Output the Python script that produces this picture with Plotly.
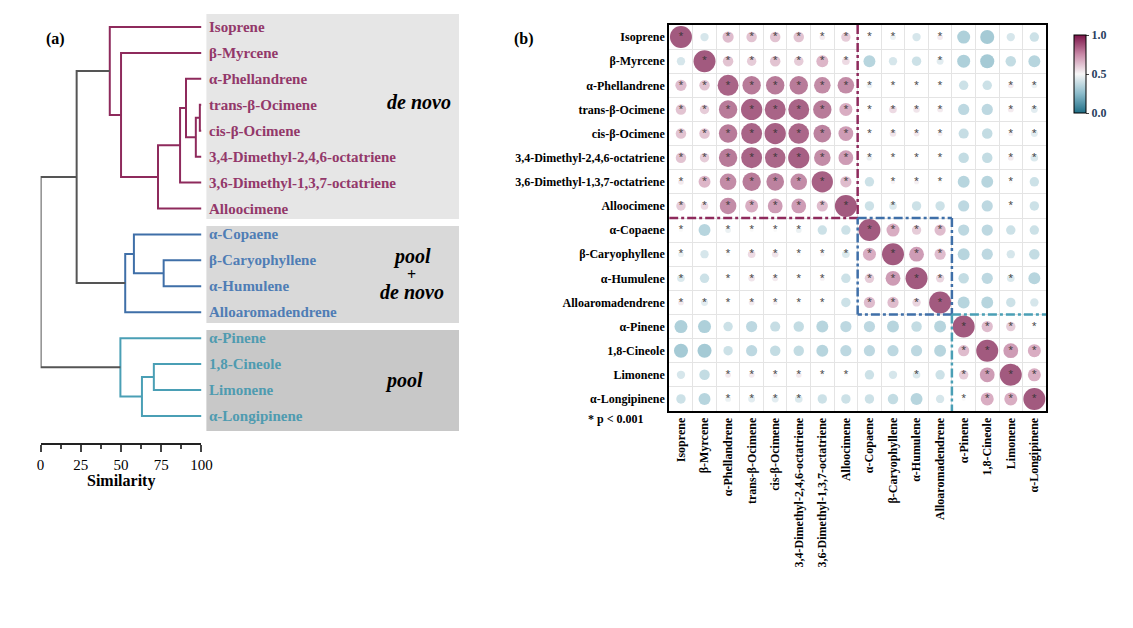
import plotly.graph_objects as go

W, H = 1133, 628
OFF = 8  # default page body margin

def px(x):
    return (x - OFF) / W

def py(y):
    return 1 - (y - OFF) / H

leaves = ["Isoprene", "β-Myrcene", "α-Phellandrene", "trans-β-Ocimene", "cis-β-Ocimene",
          "3,4-Dimethyl-2,4,6-octatriene", "3,6-Dimethyl-1,3,7-octatriene", "Alloocimene",
          "α-Copaene", "β-Caryophyllene", "α-Humulene", "Alloaromadendrene",
          "α-Pinene", "1,8-Cineole", "Limonene", "α-Longipinene"]
leaf_group = ["dn"] * 8 + ["pd"] * 4 + ["p"] * 4

# merges: (child a, child b, similarity height, colour group); "n#" = earlier merge
merges = [
    ("trans-β-Ocimene", "cis-β-Ocimene", 99, "dn"),
    ("n0", "3,4-Dimethyl-2,4,6-octatriene", 96.5, "dn"),
    ("α-Phellandrene", "n1", 90.4, "dn"),
    ("n2", "3,6-Dimethyl-1,3,7-octatriene", 86.7, "dn"),
    ("n3", "Alloocimene", 73, "dn"),
    ("β-Myrcene", "n4", 50, "dn"),
    ("Isoprene", "n5", 43, "dn"),
    ("β-Caryophyllene", "α-Humulene", 76.5, "pd"),
    ("α-Copaene", "n7", 58, "pd"),
    ("n8", "Alloaromadendrene", 52.6, "pd"),
    ("n6", "n9", 22.4, "g"),
    ("1,8-Cineole", "Limonene", 70.4, "p"),
    ("n11", "α-Longipinene", 63, "p"),
    ("α-Pinene", "n12", 49.6, "p"),
    ("n10", "n13", 0, "g"),
]

corr = [
    [1, .38, .7, .68, .68, .68, .55, .65, .5, .45, .38, .55, .25, .22, .38, .35],
    [.38, 1, .68, .65, .68, .65, .72, .6, .28, .38, .35, .42, .25, .22, .32, .28],
    [.7, .68, .97, .9, .9, .9, .85, .85, .45, .5, .5, .5, .35, .35, .55, .45],
    [.68, .65, .9, .98, .97, .97, .9, .75, .5, .6, .57, .55, .3, .3, .55, .42],
    [.68, .68, .9, .97, .98, .96, .88, .8, .5, .57, .55, .53, .33, .32, .53, .42],
    [.68, .65, .9, .97, .96, .98, .85, .8, .45, .5, .5, .5, .32, .32, .55, .4],
    [.55, .72, .85, .9, .88, .85, .98, .7, .35, .52, .53, .5, .28, .28, .5, .35],
    [.65, .6, .85, .75, .8, .8, .7, 1, .35, .4, .35, .35, .3, .3, .5, .35],
    [.5, .28, .45, .5, .5, .45, .35, .35, 1, .75, .65, .7, .3, .3, .35, .35],
    [.45, .38, .5, .6, .57, .5, .52, .4, .75, 1, .8, .7, .28, .3, .38, .32],
    [.4, .35, .5, .57, .55, .5, .53, .35, .65, .8, 1, .62, .32, .3, .4, .28],
    [.55, .42, .5, .55, .53, .5, .5, .35, .7, .7, .62, 1, .28, .28, .35, .38],
    [.25, .25, .35, .3, .33, .32, .28, .3, .3, .28, .32, .28, 1, .7, .65, .5],
    [.22, .22, .35, .3, .32, .32, .28, .3, .3, .3, .3, .28, .7, 1, .8, .75],
    [.38, .32, .55, .55, .53, .55, .5, .5, .35, .38, .4, .35, .65, .8, 1, .75],
    [.35, .28, .45, .42, .42, .4, .35, .35, .35, .32, .28, .38, .5, .75, .75, 1],
]

cols = {"dn": "#8e2a5c", "pd": "#3f6fa8", "p": "#4a9fb5", "g": "#555555"}
txtcols = {"dn": "#93386a", "pd": "#4f7db5", "p": "#4f9bb0"}

fig = go.Figure()

# ---- dendrogram ----
pos = {n: (100, i) for i, n in enumerate(leaves)}
segs = {k: ([], []) for k in cols}
for k, (a, b, h, c) in enumerate(merges):
    xa, ya = pos[a]
    xb, yb = pos[b]
    xs, ys = segs[c]
    xs += [xa, h, h, xb, None]
    ys += [ya, ya, yb, yb, None]
    pos["n%d" % k] = (h, (ya + yb) / 2)
for c, (xs, ys) in segs.items():
    fig.add_trace(go.Scatter(x=xs, y=ys, mode="lines", line=dict(color=cols[c], width=2),
                             xaxis="x", yaxis="y", showlegend=False, hoverinfo="skip"))

for i, n in enumerate(leaves):
    fig.add_annotation(x=px(206), xref="paper", y=i, yref="y", text="<b>%s</b>" % n,
                       showarrow=False, xanchor="left",
                       font=dict(family="Liberation Serif", size=15, color=txtcols[leaf_group[i]]))

for y0, y1, fc in [(14, 219, "#e6e6e6"), (226, 323, "#d9d9d9"), (330, 431, "#c8c8c8")]:
    fig.add_shape(type="rect", xref="paper", yref="paper", x0=px(205), x1=px(461),
                  y0=py(y1), y1=py(y0), fillcolor=fc, line_width=0, layer="below")

def ptxt(x, y, t, size=20, anchor="center"):
    fig.add_annotation(x=px(x), y=py(y), xref="paper", yref="paper", text=t, showarrow=False,
                       xanchor=anchor, font=dict(family="Liberation Serif", size=size, color="black"))

ptxt(420, 89, "<b><i>de novo</i></b>")
ptxt(413, 257, "<b><i>pool</i></b>")
ptxt(413, 274, "<b>+</b>", 16)
ptxt(413, 292, "<b><i>de novo</i></b>")
ptxt(405, 380, "<b><i>pool</i></b>")
ptxt(52, 28, "<b>(a)</b>", 16)
ptxt(527, 28, "<b>(b)</b>", 16)
ptxt(620, 428, "<b>* p < 0.001</b>", 12)
ptxt(118, 492, "<b>Similarity</b>", 16)

# ---- correlation circles ----
n = len(leaves)
xs, ys, vs, ss, sx, sy = [], [], [], [], [], []
for i in range(n):
    for j in range(n):
        v = corr[i][j]
        xs.append(j); ys.append(i); vs.append(v)
        ss.append(4 + 36 * abs(v - 0.5))
        if v >= 0.4 or i == j:
            sx.append(j); sy.append(i)

cscale = [[0, "#1f6e86"], [0.25, "#8cbccb"], [0.5, "#f7f7f7"], [0.75, "#c98aa8"], [1, "#7b1448"]]
fig.add_trace(go.Scatter(x=xs, y=ys, mode="markers", xaxis="x2", yaxis="y2", showlegend=False,
                         marker=dict(size=ss, color=vs, colorscale=cscale, cmin=0, cmax=1,
                                     line_width=0, showscale=True,
                                     colorbar=dict(x=px(1074), xanchor="left", y=py(25), yanchor="top",
                                                   len=98 / H, lenmode="fraction", thickness=12,
                                                   outlinecolor="black", outlinewidth=1,
                                                   tickvals=[0, 0.5, 1], ticktext=["<b>0.0</b>", "<b>0.5</b>", "<b>1.0</b>"],
                                                   ticks="outside", ticklen=3,
                                                   tickfont=dict(family="Liberation Serif", size=12)))))
fig.add_trace(go.Scatter(x=sx, y=sy, mode="text", text=["*"] * len(sx), xaxis="x2", yaxis="y2",
                         showlegend=False, textposition="middle center",
                         textfont=dict(size=9, color="#333333"), hoverinfo="skip"))

def ln(x0, y0, x1, y1, c):
    fig.add_shape(type="line", xref="x2", yref="y2", x0=x0, y0=y0, x1=x1, y1=y1,
                  line=dict(color=c, width=2.5, dash="dashdot"))
ln(7.5, -0.5, 7.5, 7.5, cols["dn"]); ln(-0.5, 7.5, 7.5, 7.5, cols["dn"])
for a, b, c, d in [(7.5, 7.5, 11.5, 7.5), (11.5, 7.5, 11.5, 11.5), (11.5, 11.5, 7.5, 11.5), (7.5, 11.5, 7.5, 7.5)]:
    ln(a, b, c, d, cols["pd"])
ln(11.5, 11.5, 15.5, 11.5, cols["p"]); ln(11.5, 11.5, 11.5, 15.5, cols["p"])

tf = dict(family="Liberation Serif", size=12, color="black")
btxt = ["<b>%s</b>" % l for l in leaves]
half = [k - 0.5 for k in range(n + 1)]
rowpx = 25.93
fig.update_layout(
    width=W, height=H, margin=dict(l=0, r=0, t=0, b=0),
    paper_bgcolor="white", plot_bgcolor="rgba(0,0,0,0)",
    xaxis=dict(domain=[px(37), px(200)], range=[0, 100], tickvals=[0, 25, 50, 75, 100],
               ticks="outside", ticklen=7, tickwidth=2, showline=True, linewidth=2, linecolor="#222",
               minor=dict(tickvals=[12.5, 37.5, 62.5, 87.5], ticks="outside", ticklen=4, tickwidth=2),
               showgrid=False, zeroline=False, anchor="y",
               tickfont=dict(family="Liberation Serif", size=15, color="black"), tickprefix="<b>", ticksuffix="</b>"),
    yaxis=dict(domain=[py(443), 1], range=[(443 - 27) / rowpx, (OFF - 27) / rowpx], visible=False),
    xaxis2=dict(domain=[px(674), px(1056)], range=[-0.5, 15.5], tickvals=list(range(n)), ticktext=btxt,
                tickangle=-90, tickfont=tf, showgrid=False, zeroline=False, anchor="y2",
                showline=True, mirror=True, linecolor="black", linewidth=2, ticks="",
                minor=dict(tickvals=half, showgrid=True, gridcolor="#e4e4e4", gridwidth=1)),
    yaxis2=dict(domain=[py(411), py(25)], range=[15.5, -0.5], tickvals=list(range(n)), ticktext=btxt,
                tickfont=tf, showgrid=False, zeroline=False, anchor="x2",
                showline=True, mirror=True, linecolor="black", linewidth=2, ticks="",
                minor=dict(tickvals=half, showgrid=True, gridcolor="#e4e4e4", gridwidth=1)),
)
fig.write_html("out.html")
